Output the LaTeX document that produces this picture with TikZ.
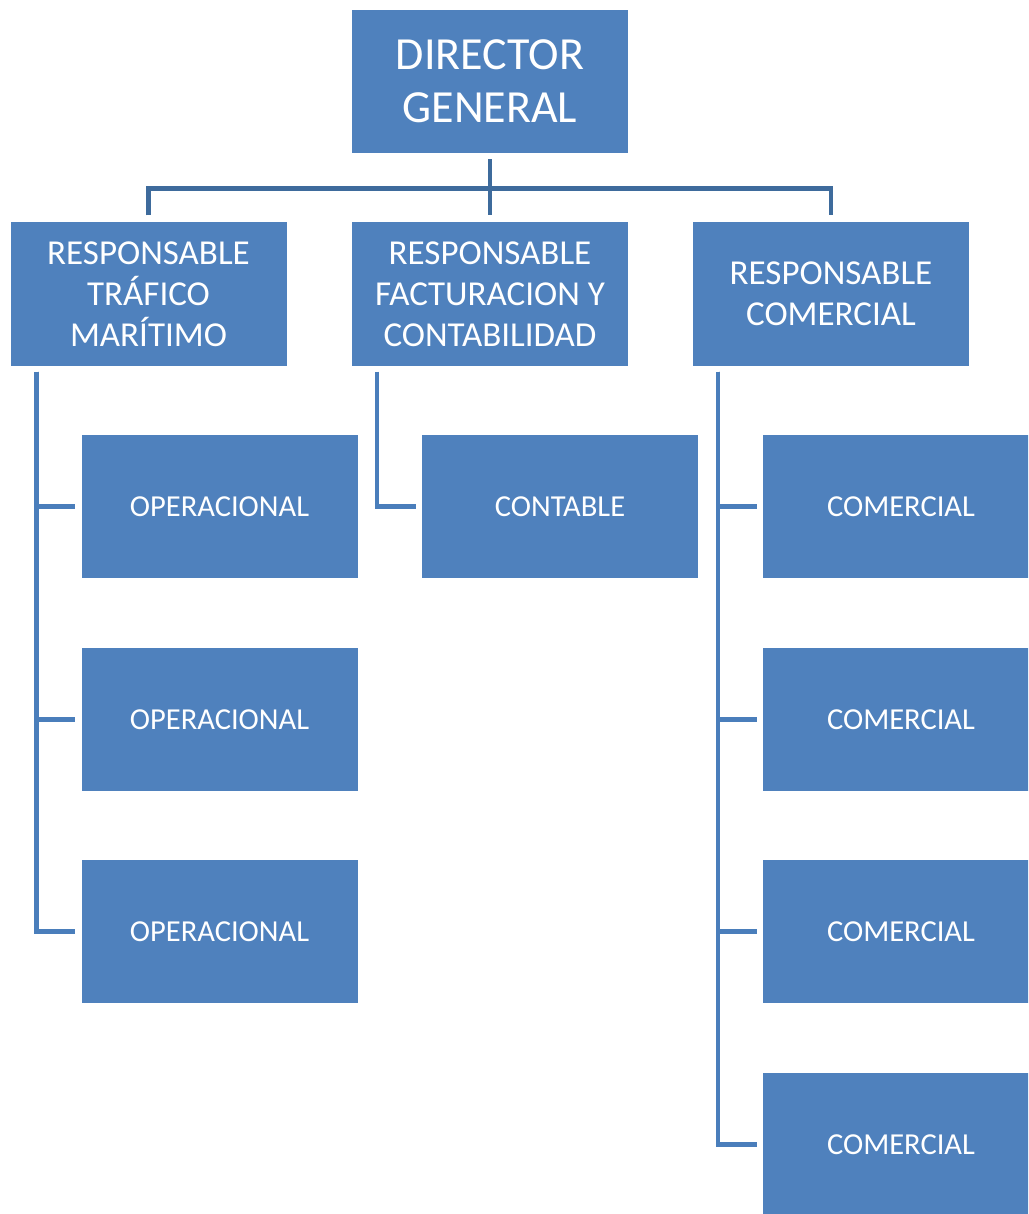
\documentclass[tikz,border=0pt]{standalone}
\usepackage{fontspec}
\setmainfont{Carlito}
\definecolor{boxblue}{HTML}{4F81BD}
\definecolor{linkdark}{HTML}{3E6B9C}
\definecolor{linkblue}{HTML}{4A7EBB}
\begin{document}
\begin{tikzpicture}[x=1pt,y=-1pt,
  unit/.style={fill=boxblue, text=white, minimum width=276pt, minimum height=143pt,
    inner sep=0pt, align=center, font=\fontsize{30.5}{40}\selectfont},
  head/.style={unit, font=\fontsize{35}{41}\selectfont},
  chief/.style={unit, font=\fontsize{46}{53}\selectfont},
  toplink/.style={draw=linkdark, line width=4.5pt},
  sidelink/.style={draw=linkblue, line width=4.5pt}]
\useasboundingbox (0,0) rectangle (1028,1214);
\clip (0,0) rectangle (1028,1214);

% top level
\node[chief] (dg) at (490,81.5) {DIRECTOR\\GENERAL};

% second level
\node[head] (rt) at (148.5,294) {RESPONSABLE\\TRÁFICO\\MARÍTIMO};
\node[head] (rf) at (490,294) {RESPONSABLE\\FACTURACION Y\\CONTABILIDAD};
\node[head] (rc) at (831,294) {RESPONSABLE\\COMERCIAL};

% third level
\node[unit] (op1) at (219.5,506.5) {OPERACIONAL};
\node[unit] (op2) at (219.5,719.5) {OPERACIONAL};
\node[unit] (op3) at (219.5,931.5) {OPERACIONAL};
\node[unit] (ct) at (560,506.5) {CONTABLE};
\node[unit] (cm1) at (901,506.5) {COMERCIAL};
\node[unit] (cm2) at (901,719.5) {COMERCIAL};
\node[unit] (cm3) at (901,931.5) {COMERCIAL};
\node[unit] (cm4) at (901,1144.5) {COMERCIAL};

% connectors from the director (shifts are in page units: negative = downwards)
\draw[toplink] ([yshift=-6pt]dg.south) -- ([yshift=7pt]rf.north);
\draw[toplink] ([yshift=7pt]rt.north) |- ([yshift=34pt]rf.north) -| ([yshift=7pt]rc.north);

% connectors to the third level
\foreach \c in {op1,op2,op3}
  \draw[sidelink] ([xshift=26pt,yshift=-6pt]rt.south west) |- ([xshift=-6pt]\c.west);
\draw[sidelink] ([xshift=25pt,yshift=-6pt]rf.south west) |- ([xshift=-6pt]ct.west);
\foreach \c in {cm1,cm2,cm3,cm4}
  \draw[sidelink] ([xshift=25pt,yshift=-6pt]rc.south west) |- ([xshift=-6pt]\c.west);
\end{tikzpicture}
\end{document}
